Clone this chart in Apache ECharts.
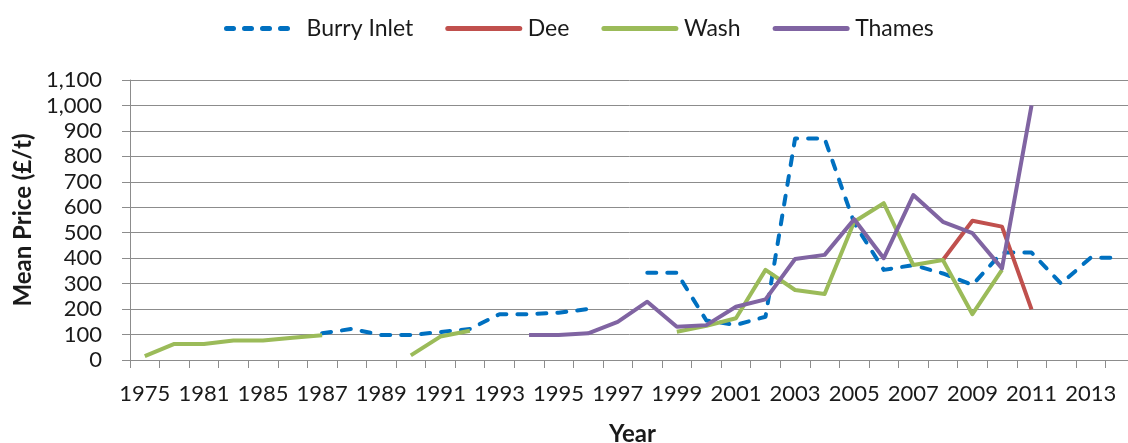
<!DOCTYPE html>
<html>
<head>
<meta charset="utf-8">
<script src="https://cdn.jsdelivr.net/npm/echarts@6/dist/echarts.min.js"></script>
<style>
html,body{margin:0;padding:0;background:#fff;overflow:hidden;}
#chart{width:1128px;height:443px;}
</style>
</head>
<body>
<div id="chart"></div>
<script>
const years = ['1975','1978','1981','1983','1985','1986','1987','1988','1989','1990','1991','1992','1993','1994','1995','1996','1997','1998','1999','2000','2001','2002','2003','2004','2005','2006','2007','2008','2009','2010','2011','2012','2013','2014'];
const burryInlet = [null,null,null,null,null,null,105,122,98,98,110,122,180,180,186,200,null,343,343,155,138,170,870,870,538,354,373,340,295,422,422,300,402,402];
const dee = [null,null,null,null,null,null,null,null,null,null,null,null,null,null,null,null,null,null,null,null,null,null,null,null,null,null,null,393,547,524,199,null,null,null];
const wash = [15,63,63,77,77,87,97,null,null,18,92,115,null,null,null,null,null,null,111,134,164,354,275,259,543,616,373,393,180,354,null,null,null,null];
const thames = [null,null,null,null,null,null,null,null,null,null,null,null,null,98,98,105,150,229,131,137,209,238,397,413,553,400,648,543,498,360,1000,null,null,null];
const yTicks = {min: 0, max: 1100, step: 100};

const chart = echarts.init(document.getElementById('chart'), null, {renderer: 'canvas'});
const txt = '#1a1a1a';
const gridCol = '#8c8c8c';
function mk(name, data, color, dashed) {
  return {
    name: name, type: 'line', data: data, connectNulls: false,
    symbol: 'none', showSymbol: false, smooth: false,
    lineStyle: {color: color, width: 4, type: dashed ? [9, 11] : 'solid', cap: dashed ? 'round' : 'butt', join: 'round'},
    itemStyle: {color: color},
    emphasis: {disabled: true}, animation: false
  };
}
chart.setOption({
  animation: false,
  backgroundColor: '#fff',
  textStyle: {fontFamily: 'Lato'},
  legend: {
    top: 12, left: 219, itemWidth: 72, itemHeight: 14, itemGap: 32,
    itemStyle: {opacity: 0, borderWidth: 0},
    lineStyle: {width: 5, cap: 'round'},
    textStyle: {fontFamily: 'Lato', fontSize: 23, color: txt, padding: [0, 0, 0, 3]},
    data: [
      {name: 'Burry Inlet', lineStyle: {type: [7, 11], cap: 'round', width: 5}},
      {name: 'Dee'},
      {name: 'Wash'},
      {name: 'Thames'}
    ]
  },
  grid: {left: 130, right: -7, top: 80, height: 280, containLabel: false, outerBoundsMode: 'none'},
  xAxis: {
    type: 'category', data: years, boundaryGap: true,
    name: 'Year', nameLocation: 'middle', nameGap: 62,
    nameTextStyle: {fontFamily: 'Lato', fontWeight: 'bold', fontSize: 24, color: txt},
    axisLine: {lineStyle: {color: gridCol, width: 1}},
    axisTick: {show: true, interval: 0, alignWithLabel: false, length: 8, lineStyle: {color: gridCol}},
    axisLabel: {interval: 1, margin: 23, fontFamily: 'Lato', fontSize: 22, color: txt},
    splitLine: {show: false}
  },
  yAxis: {
    type: 'value', min: yTicks.min, max: yTicks.max, interval: yTicks.step,
    name: 'Mean Price (£/t)', nameLocation: 'middle', nameGap: 88, nameRotate: 90,
    nameTextStyle: {fontFamily: 'Lato', fontWeight: 'bold', fontSize: 24, color: txt},
    axisLine: {show: true, lineStyle: {color: gridCol, width: 1}},
    axisTick: {show: true, length: 8, lineStyle: {color: gridCol}},
    axisLabel: {margin: 28, fontFamily: 'Lato', fontSize: 22, color: txt,
      formatter: v => v.toLocaleString('en-US')},
    splitLine: {show: true, lineStyle: {color: gridCol, width: 1}}
  },
  series: [
    mk('Burry Inlet', burryInlet, '#0070C0', true),
    mk('Dee', dee, '#C0504D', false),
    mk('Wash', wash, '#9BBB59', false),
    mk('Thames', thames, '#8064A2', false)
  ]
});
</script>
</body>
</html>
